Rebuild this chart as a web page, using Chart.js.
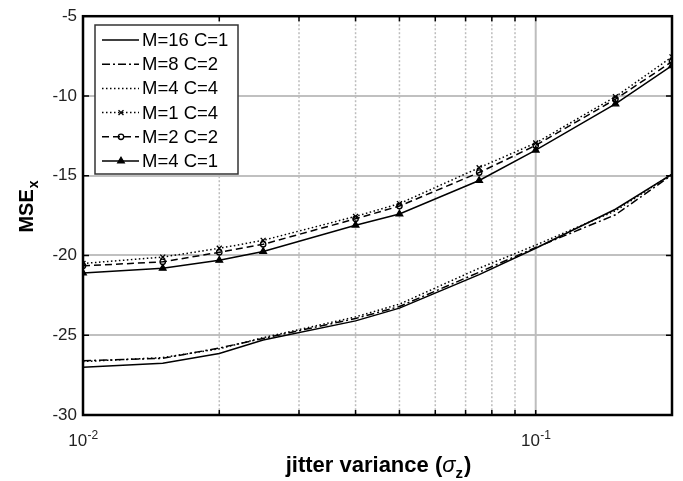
<!DOCTYPE html>
<html>
<head>
<meta charset="utf-8">
<script src="https://cdn.jsdelivr.net/npm/chart.js@4/dist/chart.umd.min.js"></script>
<style>
    body { margin: 0; background: #fff; }
    #chartContent { width: 683px; height: 481px; }
</style>
</head>
<body>
<div id="chartContent"><canvas id="chart" width="683" height="481"></canvas></div>
<script>
// valores
var jitter = [0.01, 0.015, 0.02, 0.025, 0.04, 0.05, 0.075, 0.1, 0.15, 0.2];
var m16c1 = [-27.0, -26.75, -26.15, -25.3, -24.1, -23.3, -21.2, -19.55, -17.1, -14.9];
var m8c2 = [-26.6, -26.45, -25.8, -25.2, -23.95, -23.2, -21.05, -19.5, -17.45, -14.95];
var m4c4 = [-26.65, -26.4, -25.85, -25.15, -23.85, -23.05, -20.8, -19.35, -17.2, -14.9];
var m1c4 = [-20.5, -20.1, -19.55, -19.05, -17.55, -16.75, -14.5, -12.95, -10.05, -7.55];
var m2c2 = [-20.65, -20.4, -19.8, -19.3, -17.7, -16.9, -14.8, -13.1, -10.2, -7.85];
var m4c1 = [-21.1, -20.8, -20.3, -19.75, -18.1, -17.4, -15.3, -13.4, -10.5, -8.1];

var seriesLabels = ['M=16 C=1', 'M=8 C=2', 'M=4 C=4', 'M=1 C=4', 'M=2 C=2', 'M=4 C=1'];
var xTicks = [0.01, 0.02, 0.03, 0.04, 0.05, 0.06, 0.07, 0.08, 0.09, 0.1, 0.2];
var yTicks = [-30, -25, -20, -15, -10, -5];
var xTickLabels = [{ v: 0.01, base: '10', exp: '-2' }, { v: 0.1, base: '10', exp: '-1' }];

var FONT = '"Liberation Sans", Arial, sans-serif';

function toPoints(values) {
    return values.map((v, i) => ({ x: jitter[i], y: v }));
}

var estilos = [
    { data: m16c1, dash: [], pointStyle: false },
    { data: m8c2, dash: [8, 3, 2, 3], pointStyle: false },
    { data: m4c4, dash: [1.5, 2.5], pointStyle: false },
    { data: m1c4, dash: [1.5, 2.5], pointStyle: 'crossRot', radius: 3.5 },
    { data: m2c2, dash: [7, 4], pointStyle: 'circle', radius: 2.7 },
    { data: m4c1, dash: [], pointStyle: 'triangle', radius: 3.8 }
];

var datasets = estilos.map((s, i) => ({
    label: seriesLabels[i],
    data: toPoints(s.data),
    borderColor: '#000',
    backgroundColor: i == 5 ? '#000' : '#fff',
    borderWidth: 1.5,
    borderDash: s.dash,
    pointStyle: s.pointStyle || 'circle',
    pointRadius: s.pointStyle ? s.radius : 0,
    pointBorderWidth: 1.3,
    pointBorderColor: '#000',
    pointBackgroundColor: i == 5 ? '#000' : 'rgba(0,0,0,0)',
    tension: 0
}));

// grid vertical punteado, marco, ticks hacia adentro, titulos y leyenda
var extras = {
    id: 'extras',
    beforeDatasetsDraw(chart) {
        const ctx = chart.ctx;
        const a = chart.chartArea;
        const xs = chart.scales.x;
        ctx.save();
        xTicks.forEach(t => {
            const px = xs.getPixelForValue(t);
            ctx.strokeStyle = '#bdbdbd';
            if (t == 0.1) {
                ctx.lineWidth = 2;
                ctx.setLineDash([]);
            } else {
                ctx.lineWidth = 1.5;
                ctx.setLineDash([2, 2]);
            }
            ctx.beginPath();
            ctx.moveTo(px, a.top); ctx.lineTo(px, a.bottom);
            ctx.stroke();
        });
        ctx.restore();
    },
    afterDraw(chart) {
        const ctx = chart.ctx;
        const a = chart.chartArea;
        const xs = chart.scales.x, ys = chart.scales.y;
        ctx.save();
        ctx.strokeStyle = '#000';
        ctx.lineWidth = 1.5;
        xTicks.forEach(t => {
            const px = xs.getPixelForValue(t);
            ctx.beginPath();
            ctx.moveTo(px, a.bottom); ctx.lineTo(px, a.bottom - 5);
            ctx.moveTo(px, a.top); ctx.lineTo(px, a.top + 5);
            ctx.stroke();
        });
        yTicks.forEach(t => {
            const py = ys.getPixelForValue(t);
            ctx.beginPath();
            ctx.moveTo(a.left, py); ctx.lineTo(a.left + 6, py);
            ctx.moveTo(a.right, py); ctx.lineTo(a.right - 6, py);
            ctx.stroke();
        });
        ctx.lineWidth = 2.5;
        ctx.strokeRect(a.left, a.top, a.right - a.left, a.bottom - a.top);

        // etiquetas del eje x con exponente
        ctx.fillStyle = '#222';
        ctx.textBaseline = 'alphabetic';
        ctx.textAlign = 'left';
        xTickLabels.forEach(l => {
            const px = xs.getPixelForValue(l.v);
            ctx.font = '17px ' + FONT;
            const wb = ctx.measureText(l.base).width;
            ctx.font = '12px ' + FONT;
            const we = ctx.measureText(l.exp).width;
            const x0 = px - (wb + we) / 2;
            ctx.font = '17px ' + FONT;
            ctx.fillText(l.base, x0, 446);
            ctx.font = '12px ' + FONT;
            ctx.fillText(l.exp, x0 + wb + 0.5, 439);
        });

        // leyenda
        const lx = 95, ly = 25, lw = 143, lh = 149;
        ctx.fillStyle = '#fff';
        ctx.fillRect(lx, ly, lw, lh);
        ctx.strokeStyle = '#333';
        ctx.lineWidth = 1.5;
        ctx.strokeRect(lx, ly, lw, lh);
        ctx.font = '18.5px ' + FONT;
        ctx.textBaseline = 'middle';
        ctx.textAlign = 'left';
        estilos.forEach((s, i) => {
            const y = 40 + i * 24.2;
            ctx.strokeStyle = '#000';
            ctx.lineWidth = 1.5;
            ctx.setLineDash(s.dash);
            ctx.beginPath();
            ctx.moveTo(102, y); ctx.lineTo(139, y);
            ctx.stroke();
            ctx.setLineDash([]);
            if (s.pointStyle) {
                ctx.fillStyle = i == 5 ? '#000' : 'rgba(0,0,0,0)';
                ctx.lineWidth = 1.3;
                Chart.helpers.drawPoint(ctx, { pointStyle: s.pointStyle, radius: s.radius, rotation: 0, borderWidth: 1.3 }, 121, y);
            }
            ctx.fillStyle = '#000';
            ctx.fillText(seriesLabels[i], 142, y + 1);
        });

        // titulo eje y
        ctx.save();
        ctx.translate(33, 207);
        ctx.rotate(-Math.PI / 2);
        ctx.fillStyle = '#000';
        ctx.textBaseline = 'alphabetic';
        ctx.font = 'bold 20px ' + FONT;
        const w1 = ctx.measureText('MSE').width;
        ctx.font = 'bold 14px ' + FONT;
        const w2 = ctx.measureText('x').width;
        let sx = -(w1 + w2) / 2;
        ctx.font = 'bold 20px ' + FONT;
        ctx.fillText('MSE', sx, 0);
        ctx.font = 'bold 14px ' + FONT;
        ctx.fillText('x', sx + w1 + 1, 5);
        ctx.restore();

        // titulo eje x
        const partes = [
            { t: 'jitter variance (', f: 'bold 22px ' + FONT, dy: 0 },
            { t: 'σ', f: 'italic 22px ' + FONT, dy: 0 },
            { t: 'z', f: 'bold 15px ' + FONT, dy: 6 },
            { t: ')', f: 'bold 22px ' + FONT, dy: 0 }
        ];
        let total = 0;
        partes.forEach(p => { ctx.font = p.f; p.w = ctx.measureText(p.t).width; total += p.w; });
        let cx = 378 - total / 2;
        ctx.textBaseline = 'alphabetic';
        ctx.fillStyle = '#000';
        partes.forEach(p => { ctx.font = p.f; ctx.fillText(p.t, cx, 472 + p.dy); cx += p.w + (p.t == 'z' ? 1 : 0); });
        ctx.restore();
    }
};

var config = {
    type: 'line',
    data: { datasets: datasets },
    options: {
        responsive: false,
        animation: false,
        layout: { padding: { top: 13, right: 11, left: 0, bottom: 0 } },
        plugins: { legend: { display: false }, tooltip: { enabled: false } },
        scales: {
            x: {
                type: 'logarithmic',
                min: 0.01,
                max: 0.2,
                afterBuildTicks: scale => { scale.ticks = xTicks.map(v => ({ value: v })); },
                afterFit: scale => { scale.height = 66; },
                border: { display: false },
                grid: { display: false },
                ticks: {
                    autoSkip: false,
                    maxRotation: 0,
                    callback: () => ''
                }
            },
            y: {
                min: -30,
                max: -5,
                afterBuildTicks: scale => { scale.ticks = yTicks.map(v => ({ value: v })); },
                afterFit: scale => { scale.width = 83; },
                border: { display: false },
                grid: { drawTicks: false, color: '#c0c0c0', lineWidth: 2 },
                ticks: {
                    padding: 6,
                    color: '#222',
                    font: { family: FONT, size: 17 }
                }
            }
        }
    },
    plugins: [extras]
};

new Chart(document.getElementById('chart'), config);
</script>
</body>
</html>
